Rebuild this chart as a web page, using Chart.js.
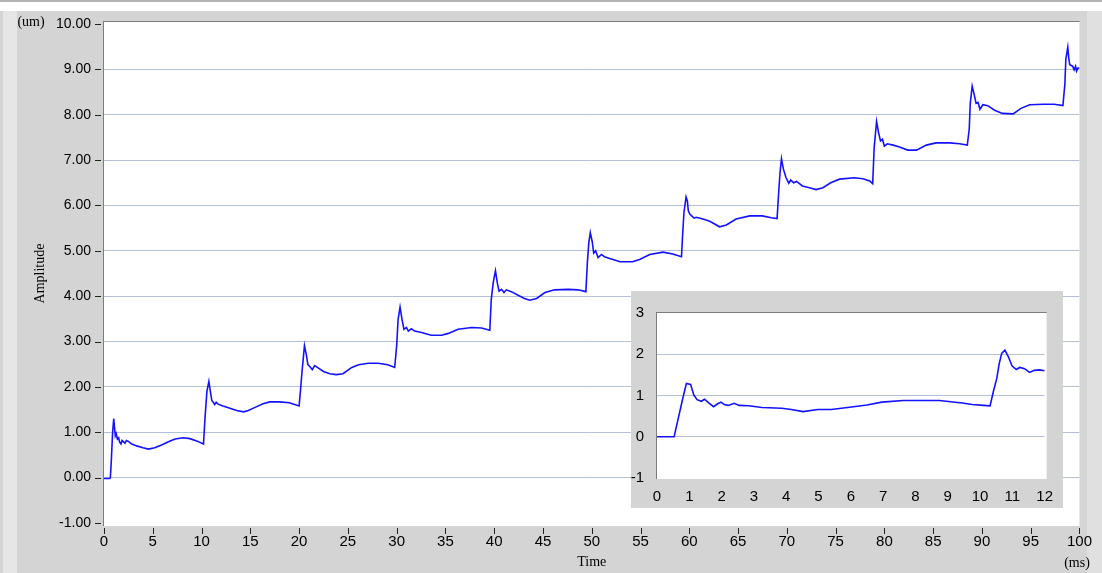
<!DOCTYPE html>
<html>
<head>
<meta charset="utf-8">
<script src="https://cdn.jsdelivr.net/npm/chart.js@4.4.1/dist/chart.umd.min.js"></script>
<style>
  body { margin: 0; background: #fff; width: 1102px; height: 573px; overflow: hidden; position: relative; }
  .bar { position: absolute; }
  #main { position: absolute; left: 0; top: 0; }
  #zoomBox { position: absolute; left: 631px; top: 291px; }
</style>
</head>
<body>
<div class="bar" style="left:0;top:0;width:1102px;height:2px;background:#b4b4b4"></div>
<div class="bar" style="left:0;top:11px;width:1102px;height:562px;background:#d4d4d4"></div>
<div class="bar" style="left:3px;top:11px;width:14px;height:562px;background:#e6e6e6"></div>
<div class="bar" style="left:1087px;top:11px;width:15px;height:562px;background:#e0e0e0"></div>
<canvas id="main" width="1102" height="573"></canvas>
<canvas id="zoomBox" width="432" height="217"></canvas>
<script>
// Step response, displacement vs time (whole record)
const mainTime = [
  0, 0.6, 0.65, 0.75, 0.88, 1.0, 1.08, 1.16, 1.25, 1.37, 1.5, 1.6, 1.74, 1.85, 1.95, 2.15, 2.3, 2.5, 2.85, 3.35,
  4.0, 4.55, 5.2, 5.9, 6.6, 7.3, 8.1, 8.8, 9.5, 10.2, 10.35, 10.55, 10.75, 10.9, 11.05, 11.2, 11.35, 11.5, 11.7, 12.2,
  12.9, 13.6, 14.3, 14.8, 15.6, 16.3, 17.0, 18.0, 19.0, 20.0, 20.15, 20.3, 20.55, 20.75, 20.9, 21.1, 21.35, 21.6, 21.95, 22.5,
  23.15, 23.8, 24.5, 25.4, 26.1, 27.1, 28.1, 29.1, 29.8, 30.0, 30.15, 30.35, 30.55, 30.75, 31.0, 31.2, 31.5, 31.85, 32.55, 33.55,
  34.6, 35.3, 36.3, 37.7, 38.7, 39.55, 39.7, 39.9, 40.13, 40.33, 40.5, 40.75, 41.0, 41.25, 41.75, 42.45, 43.1, 43.65, 44.35, 45.2,
  46.2, 47.6, 48.6, 49.4, 49.55, 49.7, 49.85, 50.05, 50.2, 50.4, 50.65, 51.0, 51.3, 51.85, 52.9, 54.2, 54.9, 55.95, 57.3, 58.3,
  59.2, 59.3, 59.45, 59.67, 59.8, 59.9, 60.05, 60.3, 60.5, 60.7, 61.4, 62.1, 63.1, 63.8, 64.8, 66.2, 67.5, 68.4, 69.0, 69.15,
  69.3, 69.45, 69.65, 69.9, 70.2, 70.4, 70.7, 71.0, 71.6, 72.3, 73.0, 73.7, 74.5, 75.4, 76.9, 77.8, 78.5, 78.8, 78.95, 79.2,
  79.4, 79.6, 79.8, 80.0, 80.3, 80.9, 81.55, 82.4, 83.3, 84.3, 85.3, 86.7, 87.7, 88.5, 88.7, 88.8, 89.0, 89.2, 89.4, 89.6,
  89.8, 90.1, 90.6, 91.3, 92.1, 93.2, 94.0, 94.9, 96.3, 97.4, 98.3, 98.5, 98.6, 98.8, 98.9, 99.0, 99.3, 99.45, 99.6, 99.7,
  99.85, 100.0
];
const mainAmp = [
  -0.02, -0.02, 0.0, 0.37, 0.99, 1.30, 1.10, 0.92, 0.97, 0.85, 0.88, 0.78, 0.74, 0.82, 0.80, 0.76, 0.82, 0.80, 0.74, 0.70,
  0.66, 0.63, 0.66, 0.72, 0.79, 0.85, 0.88, 0.86, 0.81, 0.74, 1.30, 1.90, 2.12, 1.90, 1.70, 1.66, 1.61, 1.66, 1.62, 1.58,
  1.53, 1.48, 1.45, 1.48, 1.56, 1.63, 1.67, 1.67, 1.65, 1.58, 1.94, 2.34, 2.91, 2.70, 2.49, 2.45, 2.38, 2.47, 2.42, 2.34,
  2.29, 2.27, 2.29, 2.43, 2.49, 2.52, 2.52, 2.49, 2.43, 2.90, 3.49, 3.76, 3.49, 3.27, 3.31, 3.23, 3.28, 3.23, 3.20, 3.14,
  3.14, 3.18, 3.27, 3.31, 3.30, 3.25, 3.93, 4.30, 4.56, 4.28, 4.11, 4.15, 4.08, 4.14, 4.10, 4.02, 3.95, 3.91, 3.95, 4.08,
  4.14, 4.15, 4.14, 4.10, 4.74, 5.18, 5.40, 5.20, 4.95, 5.00, 4.85, 4.92, 4.87, 4.83, 4.76, 4.76, 4.81, 4.92, 4.97, 4.93,
  4.87, 5.29, 5.84, 6.19, 6.10, 5.88, 5.81, 5.76, 5.72, 5.74, 5.70, 5.65, 5.53, 5.57, 5.70, 5.77, 5.77, 5.73, 5.71, 6.24,
  6.72, 7.03, 6.80, 6.62, 6.49, 6.56, 6.50, 6.53, 6.43, 6.39, 6.35, 6.39, 6.50, 6.58, 6.61, 6.59, 6.54, 6.48, 7.27, 7.85,
  7.61, 7.42, 7.46, 7.31, 7.36, 7.33, 7.29, 7.22, 7.22, 7.33, 7.38, 7.38, 7.36, 7.33, 7.69, 8.24, 8.63, 8.45, 8.25, 8.27,
  8.12, 8.22, 8.20, 8.10, 8.03, 8.02, 8.14, 8.22, 8.23, 8.23, 8.20, 8.67, 9.22, 9.49, 9.25, 9.10, 9.07, 8.99, 9.07, 8.96,
  9.03, 9.02
];

// First 12 ms, shown in the small window
const zoomTime = [
  0, 0.53, 0.66, 0.81, 0.91, 1.04, 1.14, 1.24, 1.37, 1.47, 1.6, 1.75, 1.88, 1.98, 2.08, 2.21, 2.39, 2.54, 2.84, 3.25,
  3.86, 4.16, 4.52, 4.98, 5.39, 5.9, 6.5, 6.96, 7.62, 8.74, 9.45, 9.76, 10.11, 10.31, 10.42, 10.52, 10.59, 10.67, 10.77, 10.87,
  10.99, 11.12, 11.23, 11.38, 11.53, 11.68, 11.84, 12.0
];
const zoomAmp = [
  0, 0, 0.45, 0.97, 1.29, 1.27, 1.01, 0.90, 0.86, 0.91, 0.82, 0.73, 0.80, 0.84, 0.78, 0.76, 0.81, 0.76, 0.75, 0.71,
  0.69, 0.66, 0.61, 0.66, 0.66, 0.71, 0.77, 0.84, 0.88, 0.88, 0.82, 0.78, 0.76, 0.75, 1.12, 1.42, 1.76, 2.02, 2.10, 1.95,
  1.72, 1.63, 1.68, 1.65, 1.56, 1.61, 1.62, 1.60
];

// Tick values
const mainXTicks = [0, 5, 10, 15, 20, 25, 30, 35, 40, 45, 50, 55, 60, 65, 70, 75, 80, 85, 90, 95, 100];
const mainYTicks = [-1, 0, 1, 2, 3, 4, 5, 6, 7, 8, 9, 10];
const zoomXTicks = [0, 1, 2, 3, 4, 5, 6, 7, 8, 9, 10, 11, 12];
const zoomYTicks = [-1, 0, 1, 2, 3];

const LINE_BLUE = 'rgb(18,18,255)';
const GRID_BLUE = '#b3c0da';
const NUM_FONT = { family: "'Liberation Sans', sans-serif", size: 15 };
const SERIF = "'Liberation Serif', 'DejaVu Serif', serif";

Chart.defaults.animation = false;
Chart.defaults.color = '#000';

const toPoints = (xs, ys) => xs.map((x, i) => ({ x: x, y: ys[i] }));
const fixTicks = (list) => (scale) => { scale.ticks = list.map(v => ({ value: v })); };

// white plot field with sunken border, drawn before the data
const plotField = (extra) => ({
  id: 'plotField',
  beforeDraw(chart) {
    const { ctx, chartArea: a } = chart;
    ctx.save();
    ctx.fillStyle = '#fff';
    ctx.fillRect(a.left, a.top - extra.top, a.right - a.left + extra.right, a.bottom - a.top + extra.top + extra.bottom);
    ctx.fillStyle = '#7c7c7c';
    ctx.fillRect(a.left - 1, a.top - extra.top - 1, a.right - a.left + extra.right + 1, 1);
    ctx.fillRect(a.left - 1, a.top - extra.top - 1, 1, a.bottom - a.top + extra.top + extra.bottom + 1);
    ctx.restore();
  }
});

// outside tick marks and unit captions of the big graph
const mainDecor = {
  id: 'mainDecor',
  afterDraw(chart) {
    const { ctx, scales: { x, y } } = chart;
    ctx.save();
    ctx.strokeStyle = '#222';
    ctx.lineWidth = 1;
    ctx.beginPath();
    y.ticks.forEach(t => {
      const py = Math.round(y.getPixelForValue(t.value)) + 0.5;
      ctx.moveTo(95, py);
      ctx.lineTo(101, py);
    });
    x.ticks.forEach(t => {
      const px = Math.round(x.getPixelForValue(t.value)) + 0.5;
      ctx.moveTo(px, 528);
      ctx.lineTo(px, 534);
    });
    ctx.stroke();
    ctx.fillStyle = '#000';
    ctx.font = '14px ' + SERIF;
    ctx.textAlign = 'center';
    ctx.textBaseline = 'middle';
    ctx.fillText('(um)', 31, 22);
    ctx.fillText('(ms)', 1077, 563);
    ctx.restore();
  }
};

new Chart(document.getElementById('main'), {
  type: 'line',
  data: {
    datasets: [{
      data: toPoints(mainTime, mainAmp),
      borderColor: LINE_BLUE,
      borderWidth: 1.6,
      pointRadius: 0,
      tension: 0
    }]
  },
  options: {
    responsive: false,
    devicePixelRatio: 1,
    layout: { padding: { top: 24, right: 22, left: 0, bottom: 0 } },
    plugins: { legend: { display: false }, tooltip: { enabled: false } },
    scales: {
      x: {
        type: 'linear', min: 0, max: 100,
        afterFit: (s) => { s.height = 50; },
        afterBuildTicks: fixTicks(mainXTicks),
        grid: { display: false, drawTicks: false },
        border: { display: false },
        ticks: { font: NUM_FONT, padding: 10, maxRotation: 0, autoSkip: false },
        title: { display: true, text: 'Time', font: { family: SERIF, size: 14 }, padding: { top: 0, bottom: 2 } }
      },
      y: {
        type: 'linear', min: -1, max: 10,
        afterFit: (s) => { s.width = 104; },
        afterBuildTicks: fixTicks(mainYTicks),
        grid: {
          drawTicks: false,
          color: (c) => (c.tick && (c.tick.value === 10 || c.tick.value === -1)) ? 'rgba(0,0,0,0)' : GRID_BLUE,
          lineWidth: 1
        },
        border: { display: false },
        ticks: {
          font: { family: "'Liberation Sans', sans-serif", size: 14 },
          padding: 13,
          callback: (v) => Number(v).toFixed(2)
        },
        title: { display: true, text: 'Amplitude', font: { family: SERIF, size: 14 }, padding: { top: 32, bottom: 0 } }
      }
    }
  },
  plugins: [plotField({ top: 2, right: 0, bottom: 3 }), mainDecor]
});

// small window: first 12 ms
const zoomFrame = {
  id: 'zoomFrame',
  beforeDraw(chart) {
    const { ctx, width, height } = chart;
    ctx.save();
    ctx.fillStyle = '#d4d4d4';
    ctx.fillRect(0, 0, width, height);
    ctx.restore();
  }
};

new Chart(document.getElementById('zoomBox'), {
  type: 'line',
  data: {
    datasets: [{
      data: toPoints(zoomTime, zoomAmp),
      borderColor: LINE_BLUE,
      borderWidth: 1.6,
      pointRadius: 0,
      tension: 0
    }]
  },
  options: {
    responsive: false,
    devicePixelRatio: 1,
    layout: { padding: { top: 10, right: 12, left: 0, bottom: 0 } },
    plugins: { legend: { display: false }, tooltip: { enabled: false } },
    scales: {
      x: {
        type: 'linear', min: 0, max: 12,
        afterFit: (s) => { s.height = 30; },
        afterBuildTicks: fixTicks(zoomXTicks),
        grid: { display: false, drawTicks: false },
        border: { display: false },
        ticks: { font: NUM_FONT, padding: 10, maxRotation: 0, autoSkip: false }
      },
      y: {
        type: 'linear', min: -1, max: 3,
        afterFit: (s) => { s.width = 26; },
        afterBuildTicks: fixTicks(zoomYTicks),
        grid: {
          drawTicks: false,
          color: (c) => (c.tick && (c.tick.value === 3 || c.tick.value === -1)) ? 'rgba(0,0,0,0)' : GRID_BLUE
        },
        border: { display: false },
        ticks: { font: NUM_FONT, padding: 13 }
      }
    }
  },
  plugins: [zoomFrame, plotField({ top: 0, right: 2, bottom: 1 })]
});
</script>
</body>
</html>
